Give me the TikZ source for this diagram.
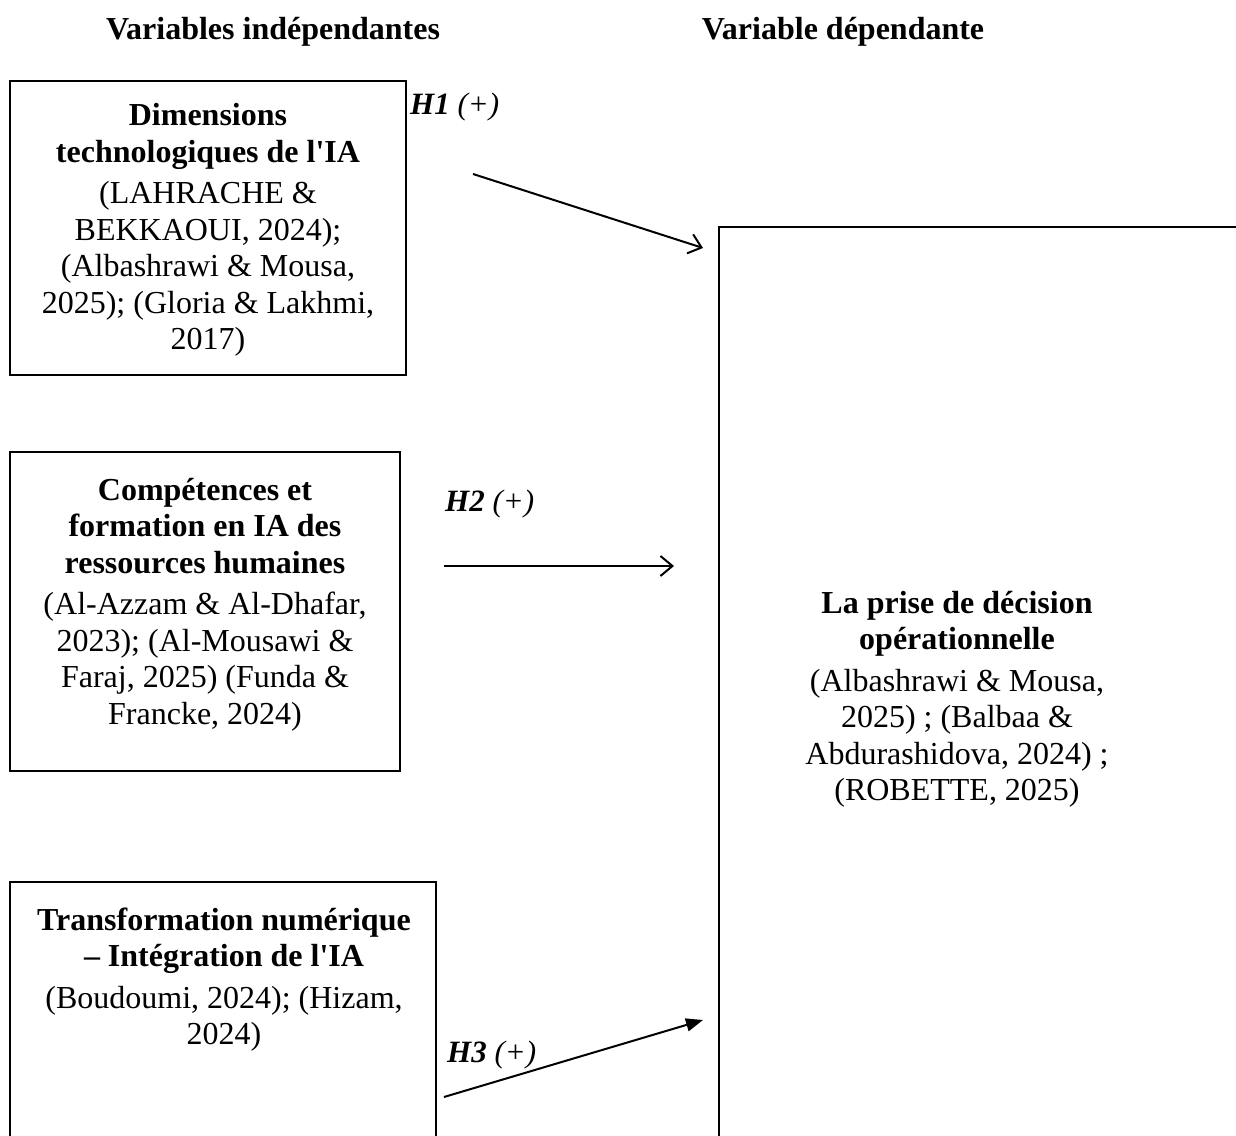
\documentclass[tikz,border=0pt]{standalone}
\usepackage{fontspec}
\setmainfont{Liberation Serif}
\usetikzlibrary{arrows.meta}
\newcommand{\apos}{\textquotesingle}
\tikzset{
  x=1pt, y=1pt,
  boxline/.style={draw=black, line width=1.6pt},
  boxnode/.style={boxline, fill=none, inner sep=0pt},
  txt/.style={align=center, inner sep=0pt, font=\fontsize{32}{36.5}\selectfont},
  head/.style={inner sep=0pt, font=\fontsize{32}{36}\selectfont\bfseries},
  hyp/.style={inner sep=0pt, anchor=base west, font=\fontsize{31}{36}\selectfont},
  openarrow/.style={line width=2pt, -{Straight Barb[length=12pt, width=20pt, line width=2pt]}},
  fillarrow/.style={line width=2pt, -{Triangle[length=17pt, width=13pt]}},
}
\begin{document}
\begin{tikzpicture}
\clip (0,0) rectangle (1236,1135);
\fill[white] (0,0) rectangle (1236,1135);

% headers
\node[head, anchor=base] (hind) at (273,1095) {Variables indépendantes};
\node[head, anchor=base] (hdep) at (843,1095) {Variable dépendante};

% boxes
\node[boxnode, minimum width=396pt, minimum height=294pt] (b1) at (208,907) {};
\node[boxnode, minimum width=390pt, minimum height=319pt] (b2) at (205,523.5) {};
\node[boxnode, minimum width=426pt, minimum height=283pt] (b3) at (223,111.5) {};
\node[boxnode, minimum width=531pt, minimum height=928pt] (bd) at (984.5,444) {};

% texts
\node[txt, anchor=north] (t1) at (208,1031.5) {\textbf{Dimensions}\\\textbf{technologiques de l\apos IA}\\[5pt](LAHRACHE \&\\BEKKAOUI, 2024);\\(Albashrawi \& Mousa,\\2025); (Gloria \& Lakhmi,\\2017)};
\node[txt, anchor=north] (t2) at (205,657) {\textbf{Compétences et}\\\textbf{formation en IA des}\\\textbf{ressources humaines}\\[5pt](Al-Azzam \& Al-Dhafar,\\2023); (Al-Mousawi \&\\Faraj, 2025) (Funda \&\\Francke, 2024)};
\node[txt, anchor=north] (t3) at (224,227.5) {\textbf{Transformation numérique}\\\textbf{– Intégration de l\apos IA}\\[5pt](Boudoumi, 2024); (Hizam,\\2024)};
\node[txt, anchor=north] (td) at (957,544) {\textbf{La prise de décision}\\\textbf{opérationnelle}\\[5pt](Albashrawi \& Mousa,\\2025) ; (Balbaa \&\\Abdurashidova, 2024) ;\\(ROBETTE, 2025)};

% hypothesis labels
\node[hyp] (h1) at (410,1020) {\textbf{\textit{H1}} \textit{(+)}};
\node[hyp] (h2) at (445,623) {\textbf{\textit{H2}} \textit{(+)}};
\node[hyp] (h3) at (447,73) {\textbf{\textit{H3}} \textit{(+)}};

% arrows
\coordinate (a1s) at (473,961);
\coordinate (a1e) at (703,887);
\coordinate (a2s) at (444,569);
\coordinate (a2e) at (674,569);
\coordinate (a3s) at (444,38);
\coordinate (a3e) at (703,115);
\draw[openarrow] (a1s) -- (a1e);
\draw[openarrow] (a2s) -- (a2e);
\draw[fillarrow] (a3s) -- (a3e);
\end{tikzpicture}
\end{document}
